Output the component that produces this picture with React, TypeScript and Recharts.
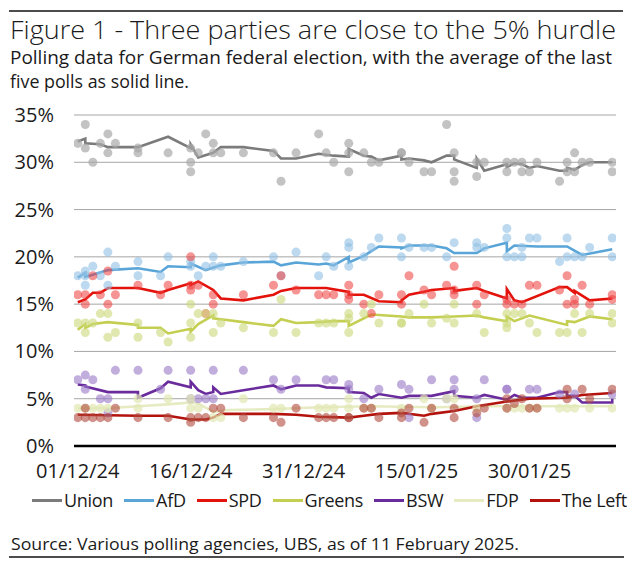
import React from 'react';
import { ComposedChart, Scatter, Line, XAxis, YAxis, CartesianGrid } from 'recharts';

const FONT = '"Open Sans", "Noto Sans", sans-serif';
const TEXT = '#1a1a1a';

// x axis: day index, 0 = 01/12/24
const xTickDays = [0, 15, 30, 45, 60];
const xTickLabels = ['01/12/24', '16/12/24', '31/12/24', '15/01/25', '30/01/25'];
const yTicks = [0, 5, 10, 15, 20, 25, 30, 35];

// [day, value %]
const unionPolls = [[0,32],[1,34],[1,31.5],[2,30],[3,32],[4,33],[4,31],[5,32],[8,31.5],[8,31],[12,31],[15,31.5],[15,30],[15,29],[16,31],[17,33],[18,32],[18,31],[19,31],[22,31],[26,31],[27,28],[29,31],[32,33],[33,31],[34,30],[36,32],[36,31],[36,29],[38,31],[39,30],[40,30],[43,31],[43,31],[44,30],[46,29],[47,29],[49,34],[50,31],[50,29],[50,28],[53,30],[53,28.5],[54,30],[57,30],[57,29],[58,30],[59,30],[59,29],[60,29],[61,30],[64,28],[65,30],[65,29],[66,31],[66,29],[67,30],[68,30],[71,30],[71,29]];
const unionAvg = [[0,32.2],[1,32.5],[1,32.0],[3,31.9],[4,31.6],[8,31.6],[12,32.7],[15,31.5],[15,31.9],[16,30.5],[18,31.0],[19,31.6],[22,31.6],[26,31.2],[27,30.4],[29,30.4],[32,30.9],[34,30.7],[36,30.6],[36,31.4],[38,30.7],[39,30.6],[40,30.2],[43,30.7],[43,30.3],[44,30.4],[46,30.2],[47,30.0],[49,30.7],[50,30.7],[50,30.3],[53,29.4],[53,30.4],[54,29.1],[57,29.8],[57,29.5],[58,29.9],[59,29.8],[60,29.4],[61,29.6],[64,29.1],[65,29.1],[65,29.4],[66,29.2],[67,29.7],[68,30.0],[71,30.0]];

const afdPolls = [[0,18],[1,18.5],[1,17],[1,18],[2,19],[3,18],[4,20.5],[4,17],[5,19],[8,19.5],[8,18],[11,18],[12,20],[15,19.5],[15,19],[16,18],[17,19],[18,20],[18,19],[19,19],[22,19.5],[26,20],[27,18],[29,20.5],[32,18],[33,20],[34,19],[36,21.5],[36,21],[36,19],[38,20],[39,21],[40,22],[43,22],[43,20],[44,21],[46,21],[47,21],[49,20],[50,21.5],[53,21.5],[53,21],[54,21],[57,23],[57,22],[57,20],[58,20],[59,21],[59,20],[60,22],[61,22],[64,19.5],[65,22],[65,20],[66,20],[67,20],[68,21],[71,22],[71,20]];
const afdAvg = [[0,17.8],[1,18.3],[1,17.9],[2,18.1],[4,18.6],[8,18.8],[11,18.4],[12,19.0],[15,18.9],[15,19.3],[17,18.6],[19,19.1],[22,19.4],[26,19.5],[27,19.1],[29,19.4],[32,19.2],[33,19.3],[34,19.1],[36,20.0],[36,19.4],[38,20.1],[40,21.1],[43,21.0],[43,20.9],[44,21.2],[47,21.2],[49,20.9],[50,20.4],[53,20.4],[54,20.9],[57,21.5],[57,20.6],[58,21.2],[61,21.1],[65,21.1],[67,20.2],[71,20.8]];

const spdPolls = [[0,16],[1,16],[1,15],[2,18],[3,16],[4,18.5],[4,15],[5,16],[8,17],[11,16],[12,17],[15,20],[15,17],[15,16.5],[16,17],[17,14],[18,16],[18,15],[22,16],[26,17],[27,18],[29,16.5],[32,16],[33,16],[34,16],[36,17],[36,16],[36,15.5],[38,15],[39,14],[40,16],[43,16],[43,15],[44,18],[46,16.5],[47,16],[49,17],[50,19],[50,16.5],[50,16],[53,17],[53,15],[54,16],[57,15.5],[57,15],[58,15],[59,15],[60,17],[61,17],[64,16.5],[65,18],[65,15],[66,15.5],[66,15],[67,17],[68,15],[71,16],[71,15.5]];
const spdAvg = [[0,15.2],[1,15.5],[2,16.2],[3,16.2],[4,16.7],[8,16.7],[11,16.2],[12,16.5],[15,17.2],[15,17.0],[16,17.4],[18,16.5],[19,15.6],[22,15.4],[26,16.0],[27,16.4],[29,16.7],[33,16.7],[36,16.3],[36,16.0],[38,16.0],[40,15.3],[43,15.2],[43,15.4],[44,16.0],[46,16.3],[47,16.5],[50,16.7],[50,16.4],[53,16.7],[54,16.4],[57,15.6],[57,16.6],[58,15.4],[59,15.2],[64,16.8],[65,16.8],[66,16.2],[66,16.4],[68,15.4],[71,15.6]];

const greensPolls = [[0,13],[1,13],[1,12],[2,13],[3,14],[4,14],[4,11.5],[5,12],[8,13],[8,11.5],[11,12],[12,11],[15,15],[15,13],[15,11.5],[16,14],[17,14],[18,14],[18,12],[19,13],[22,12.5],[26,12],[27,15.5],[29,12],[32,13],[33,13],[34,13],[36,14],[36,13.5],[36,12],[38,14],[39,15],[40,13],[43,13],[43,13],[44,14],[46,15],[47,13],[49,13.5],[50,15],[50,13],[53,14],[54,12],[57,14],[57,13],[57,12.5],[58,14],[59,14],[60,13],[61,12],[64,12],[65,12],[66,14],[67,12],[68,14],[71,14],[71,13]];
const greensAvg = [[0,12.3],[1,12.9],[1,12.5],[2,12.9],[4,13.1],[8,12.8],[8,12.5],[11,12.5],[12,11.9],[15,12.4],[15,12.1],[16,12.9],[18,13.8],[18,13.5],[19,13.4],[22,13.1],[26,12.7],[27,13.4],[29,13.0],[32,13.1],[34,13.2],[36,13.2],[36,12.7],[39,13.9],[43,13.7],[44,13.6],[47,13.6],[50,13.7],[53,13.8],[54,13.6],[57,13.2],[57,13.7],[58,13.2],[60,13.8],[65,12.8],[65,13.2],[66,13.1],[68,13.7],[71,13.4]];

const bswPolls = [[0,7],[1,7.5],[1,6],[2,7],[3,5],[4,5],[4,3.5],[5,8],[8,8],[11,6],[12,8],[15,8],[15,5],[16,5],[17,5],[18,8],[18,5],[22,8],[26,7],[27,6],[29,7],[33,7],[34,7],[36,6.5],[36,6],[38,5],[40,6],[43,6.5],[44,6],[44,3],[47,7],[49,5],[50,7],[50,6],[53,5],[53,3],[54,7],[57,6],[57,6],[60,6],[61,6],[64,5.5],[66,5.5],[71,5.5]];
const bswAvg = [[0,6.5],[1,6.4],[1,6.3],[4,5.7],[8,5.7],[8,5.1],[11,6.1],[12,6.8],[15,6.2],[15,6.8],[16,5.9],[17,5.5],[18,5.7],[18,6.2],[19,5.5],[22,5.9],[26,6.4],[27,6.0],[29,6.4],[32,6.4],[33,6.2],[36,6.1],[36,5.7],[38,5.6],[39,5.1],[40,5.5],[43,5.1],[44,5.3],[47,5.3],[50,5.8],[50,5.3],[53,5.1],[54,5.4],[57,4.9],[58,5.4],[59,5.1],[61,5.1],[64,5.7],[65,5.7],[65,5.3],[66,5.3],[67,4.6],[71,4.6],[71,5.0]];

const fdpPolls = [[0,4],[1,4],[2,4],[3,4],[4,4],[8,5],[8,4],[12,5],[15,5],[15,4],[16,4],[18,3],[19,3],[22,5],[26,4],[27,4],[32,4],[33,4],[34,4],[36,5],[36,4],[38,4],[39,4],[43,4],[46,5],[47,4],[49,5],[50,5],[53,4],[57,4],[58,4],[59,4],[60,4],[61,4],[64,4],[65,4],[66,4],[68,4],[71,4]];
const fdpAvg = [[0,4.0],[4,4.0],[8,4.2],[12,4.4],[15,4.6],[16,4.5],[18,3.6],[20,3.8],[26,3.9],[32,4.1],[39,4.2],[47,4.1],[55,4.2],[71,4.2]];

const leftPolls = [[0,3],[1,4],[1,3],[2,3],[3,3],[4,3],[5,4],[8,3],[12,3],[15,2.5],[15,3],[16,3],[17,3],[18,4],[19,4],[22,3],[26,3],[27,2.5],[29,4],[32,3],[33,3],[34,3],[36,3],[36,3],[38,4],[39,4],[40,3],[43,3],[43,3.5],[44,4],[46,2.5],[47,4],[50,4],[50,3],[53,3.5],[54,4],[57,5],[57,4],[58,4.5],[59,5],[60,4],[61,4],[65,6],[65,5],[67,6],[68,5],[71,6]];
const leftAvg = [[0,3.3],[8,3.2],[12,3.2],[15,2.8],[17,2.8],[18,3.0],[19,3.4],[22,3.4],[26,3.4],[29,3.3],[32,3.1],[36,3.0],[38,3.2],[40,3.4],[43,3.5],[46,3.2],[47,3.4],[50,3.7],[53,4.2],[57,4.7],[60,5.0],[65,5.1],[67,5.4],[71,5.6]];

const toPts = (arr: number[][]) => arr.map(([day, v]) => ({ day, v }));

const parties = [
  { name: 'Union', polls: unionPolls, avg: unionAvg, line: '#7b7b7b', dot: '#a9a9a9', op: 0.7 },
  { name: 'AfD', polls: afdPolls, avg: afdAvg, line: '#5aa5d8', dot: '#8fc0e4', op: 0.6 },
  { name: 'SPD', polls: spdPolls, avg: spdAvg, line: '#e3120b', dot: '#ee3b3b', op: 0.55 },
  { name: 'Greens', polls: greensPolls, avg: greensAvg, line: '#c4cf52', dot: '#cbd87a', op: 0.6 },
  { name: 'BSW', polls: bswPolls, avg: bswAvg, line: '#6a2c9c', dot: '#9a78c6', op: 0.6 },
  { name: 'FDP', polls: fdpPolls, avg: fdpAvg, line: '#e6ebc2', dot: '#e1e8b4', op: 0.7 },
  { name: 'The Left', polls: leftPolls, avg: leftAvg, line: '#b3120d', dot: '#b04a3c', op: 0.6 },
];

const XTick = (props: any) => {
  const { x, payload } = props;
  const i = xTickDays.indexOf(payload.value);
  return (
    <text x={x} y={478} textAnchor="middle" fontSize={20} fontFamily={FONT} fill={TEXT}>
      {i >= 0 ? xTickLabels[i] : ''}
    </text>
  );
};

const YTick = (props: any) => {
  const { y, payload } = props;
  return (
    <text x={54} y={y + 7} textAnchor="end" fontSize={20} fontFamily={FONT} fill={TEXT}>
      {payload.value + '%'}
    </text>
  );
};

export default function App() {
  return (
    <div style={{ position: 'absolute', left: 0, top: 0, width: 631, height: 573, background: '#fff', fontFamily: FONT, color: TEXT }}>
      <svg width={631} height={573} style={{ position: 'absolute', left: 0, top: 0 }}>
        <line x1={9} x2={623} y1={11} y2={11} stroke="#111" strokeWidth={1.5} />
        <text x={10} y={39} fontSize={26.5} fontFamily={FONT} fill={TEXT} fontWeight={300} textLength={606} lengthAdjust="spacingAndGlyphs">
          Figure 1 - Three parties are close to the 5% hurdle
        </text>
        <text x={10} y={64} fontSize={18} fontFamily={FONT} fill={TEXT} textLength={602} lengthAdjust="spacingAndGlyphs">
          Polling data for German federal election, with the average of the last
        </text>
        <text x={10} y={88} fontSize={18} fontFamily={FONT} fill={TEXT} textLength={179} lengthAdjust="spacingAndGlyphs">
          five polls as solid line.
        </text>
        <text x={11} y={550} fontSize={17} fontFamily={FONT} fill={TEXT} textLength={508} lengthAdjust="spacingAndGlyphs">
          Source: Various polling agencies, UBS, as of 11 February 2025.
        </text>
        <line x1={9} x2={624} y1={557} y2={557} stroke="#111" strokeWidth={1.5} />
      </svg>
      <div style={{ position: 'absolute', left: 0, top: 0 }}>
        <ComposedChart width={631} height={490} margin={{ top: 115, right: 15, bottom: 10, left: 0 }}>
          <CartesianGrid horizontal vertical={false} stroke="#a6a6a6" strokeWidth={1} />
          <XAxis
            type="number"
            dataKey="day"
            domain={[-0.5, 71.5]}
            ticks={xTickDays}
            tick={<XTick />}
            tickLine={false}
            axisLine={{ stroke: '#000', strokeWidth: 2.5 }}
            height={34}
            allowDataOverflow
          />
          <YAxis
            type="number"
            dataKey="v"
            domain={[0, 35]}
            ticks={yTicks}
            tick={<YTick />}
            tickLine={false}
            axisLine={false}
            width={74}
          />
          {parties.map((p) => (
            <Scatter
              key={'s' + p.name}
              name={p.name + ' polls'}
              data={toPts(p.polls)}
              fill={p.dot}
              fillOpacity={p.op}
              isAnimationActive={false}
            />
          ))}
          {parties.map((p) => (
            <Line
              key={'l' + p.name}
              name={p.name}
              data={toPts(p.avg)}
              dataKey="v"
              type="linear"
              stroke={p.line}
              strokeWidth={2.6}
              dot={false}
              activeDot={false}
              isAnimationActive={false}
            />
          ))}
        </ComposedChart>
      </div>
      <div style={{ position: 'absolute', left: 32, top: 488, width: 595, display: 'flex', justifyContent: 'space-between', alignItems: 'center', fontSize: 18, letterSpacing: -0.3, whiteSpace: 'nowrap' }}>
        {parties.map((p) => (
          <div key={p.name} style={{ display: 'flex', alignItems: 'center' }}>
            <span style={{ display: 'inline-block', width: 30, height: 3, background: p.line, marginRight: 2 }} />
            <span>{p.name}</span>
          </div>
        ))}
      </div>
    </div>
  );
}
